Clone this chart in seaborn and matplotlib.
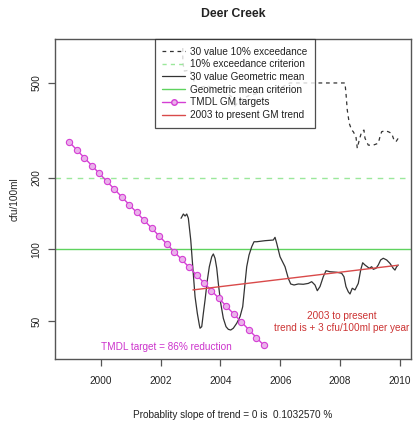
import matplotlib
matplotlib.use("Agg")
import matplotlib.pyplot as plt
import seaborn as sns
import pandas as pd
from matplotlib.lines import Line2D

# ---- data -------------------------------------------------------------
# 30-sample rolling geometric mean (cfu/100ml)
gm_years = [2002.683, 2002.760, 2002.817, 2002.873, 2002.927, 2003.007, 2003.074,
            2003.151, 2003.227, 2003.294, 2003.318, 2003.374, 2003.428, 2003.485,
            2003.562, 2003.628, 2003.709, 2003.762, 2003.819, 2003.876, 2003.929,
            2004.009, 2004.096, 2004.186, 2004.263, 2004.343, 2004.430, 2004.544,
            2004.654, 2004.744, 2004.821, 2004.878, 2004.955, 2005.045, 2005.122,
            2005.212, 2005.490, 2005.767, 2005.824, 2005.880, 2005.991, 2006.158,
            2006.268, 2006.348, 2006.459, 2006.602, 2006.769, 2006.936, 2007.050,
            2007.160, 2007.237, 2007.327, 2007.437, 2007.528, 2007.661, 2007.885,
            2008.052, 2008.129, 2008.196, 2008.273, 2008.330, 2008.406, 2008.497,
            2008.607, 2008.687, 2008.754, 2008.831, 2008.908, 2008.974, 2009.055,
            2009.108, 2009.198, 2009.275, 2009.355, 2009.442, 2009.556, 2009.666,
            2009.776, 2009.833, 2009.890, 2009.943]
gm_values = [135.0, 140.7, 138.0, 140.7, 135.0, 109.4, 84.5, 63.2, 53.8, 48.1,
             46.6, 47.3, 53.8, 61.2, 74.3, 84.5, 93.1, 95.6, 91.7, 83.2, 71.9,
             59.3, 51.3, 47.3, 46.1, 45.8, 46.6, 48.9, 52.1, 57.4, 71.9, 84.5,
             94.6, 102.5, 107.6, 107.6, 108.7, 109.4, 112.3, 106.0, 93.1, 84.5,
             75.5, 71.5, 70.8, 71.5, 71.3, 71.9, 73.1, 70.8, 67.0, 69.7, 76.7,
             81.3, 80.5, 80.1, 79.3, 76.7, 69.7, 66.3, 64.9, 68.6, 67.5, 71.9,
             81.8, 87.8, 85.9, 84.5, 83.2, 84.5, 82.4, 83.2, 85.9, 90.2, 91.7,
             90.2, 87.3, 83.2, 81.8, 84.5, 85.9]

# 30-sample rolling 10% exceedance value (cfu/100ml)
exc_years = [2002.740, 2002.741, 2002.793, 2002.984, 2003.084, 2003.217, 2003.552,
             2004.053, 2004.387, 2004.454, 2004.654, 2004.988, 2005.490, 2005.991,
             2006.325, 2008.162, 2008.196, 2008.239, 2008.306, 2008.386, 2008.440,
             2008.530, 2008.573, 2008.640, 2008.720, 2008.797, 2008.831, 2008.941,
             2009.108, 2009.275, 2009.332, 2009.389, 2009.499, 2009.609, 2009.723,
             2009.800, 2009.866, 2009.943]
exc_values = [701, 612, 561, 567, 520, 476, 486, 467, 436, 396, 424, 445, 458, 476,
              500, 500, 452, 385, 338, 317, 312, 297, 266, 288, 312, 317, 293, 274,
              274, 279, 297, 312, 315, 312, 307, 288, 283, 293]

# TMDL geometric-mean targets (quarterly, 86% reduction)
tmdl_years = [1998.95, 1999.20, 1999.45, 1999.70, 1999.95, 2000.20, 2000.45,
              2000.70, 2000.95, 2001.20, 2001.45, 2001.70, 2001.95, 2002.20,
              2002.45, 2002.70, 2002.95, 2003.20, 2003.45, 2003.70, 2003.95,
              2004.20, 2004.45, 2004.70, 2004.95, 2005.20, 2005.45]
tmdl_values = [282.0, 261.5, 242.4, 224.8, 208.4, 193.2, 179.2, 166.1, 154.0,
               142.8, 132.4, 122.7, 113.8, 105.5, 97.8, 90.7, 84.1, 78.0, 72.3,
               67.0, 62.2, 57.6, 53.4, 49.5, 45.9, 42.6, 39.5]

# 2003-to-present linear trend of the geometric mean
trend_years = [2003.08, 2009.93]
trend_values = [67.5, 85.7]

exceed_criterion = 200
gm_criterion = 100

y_ticks = [50, 100, 200, 500]
x_ticks = [2000, 2002, 2004, 2006, 2008, 2010]

# ---- styling ----------------------------------------------------------
sns.set_style("white")
plt.rcParams["font.family"] = ["Liberation Sans", "DejaVu Sans"]

TXT = "#222222"
FRAME = "#555555"
C_BLACK = "#333333"
C_GREEN = "#5fd35f"
C_LGREEN = "#9be89b"
C_MAG = "#d43fd4"
C_MAGFILL = "#eab2ea"
C_RED = "#d94a4a"

fig = plt.figure(figsize=(4.14, 4.25), dpi=100)
ax = fig.add_axes([0.1329, 0.1553, 0.8599, 0.7529])

ax.set_yscale("log")

ax.axhline(exceed_criterion, color=C_LGREEN, lw=1.0, ls=(0, (4, 4)), zorder=1)
ax.axhline(gm_criterion, color=C_GREEN, lw=1.0, zorder=1)

exc_df = pd.DataFrame({"year": exc_years, "value": exc_values})
sns.lineplot(data=exc_df, x="year", y="value", ax=ax, color=C_BLACK, lw=0.9,
             ls=(0, (3, 3)), sort=False, estimator=None, zorder=2)

gm_df = pd.DataFrame({"year": gm_years, "value": gm_values})
sns.lineplot(data=gm_df, x="year", y="value", ax=ax, color=C_BLACK, lw=0.9,
             sort=False, estimator=None, zorder=3)

tmdl_df = pd.DataFrame({"year": tmdl_years, "value": tmdl_values})
sns.lineplot(data=tmdl_df, x="year", y="value", ax=ax, color=C_MAG, lw=1.0,
             marker="o", markersize=4.5, markerfacecolor=C_MAGFILL,
             markeredgecolor=C_MAG, markeredgewidth=0.8,
             sort=False, estimator=None, zorder=4)

trend_df = pd.DataFrame({"year": trend_years, "value": trend_values})
sns.lineplot(data=trend_df, x="year", y="value", ax=ax, color=C_RED, lw=1.0,
             sort=False, estimator=None, zorder=4)

ax.set_xlim(1998.47, 2010.37)
ax.set_ylim(34.6, 765)

ax.set_yticks(y_ticks)
ax.set_yticklabels([str(v) for v in y_ticks], rotation=90, va="center")
ax.yaxis.set_minor_locator(matplotlib.ticker.NullLocator())
ax.set_xticks(x_ticks)
ax.set_xticklabels([str(v) for v in x_ticks])

ax.tick_params(axis="both", which="major", direction="out", length=5,
               width=0.9, color=FRAME, labelsize=7.2, labelcolor=TXT,
               left=True, bottom=True)
ax.tick_params(axis="x", pad=7)
ax.tick_params(axis="y", pad=5)
for s in ax.spines.values():
    s.set_color(FRAME)
    s.set_linewidth(1.0)

ax.set_xlabel("")
ax.set_ylabel("cfu/100ml", fontsize=7.2, color=TXT, labelpad=8)
ax.set_title("Deer Creek", fontsize=8.8, fontweight="bold", color=TXT, pad=16)

ax.text(2008.05, 49.6, "2003 to present\ntrend is + 3 cfu/100ml per year",
        ha="center", va="center", fontsize=7.2, color="#cc3333",
        linespacing=1.25)
ax.text(2002.2, 38.9, "TMDL target = 86% reduction", ha="center",
        va="center", fontsize=7.2, color="#cc33cc")

fig.text(0.563, 0.0235, "Probablity slope of trend = 0 is  0.1032570 %",
         ha="center", va="center", fontsize=7.2, color=TXT)

handles = [
    Line2D([], [], color=C_BLACK, lw=0.9, ls=(0, (3, 3))),
    Line2D([], [], color=C_LGREEN, lw=1.0, ls=(0, (3, 3))),
    Line2D([], [], color=C_BLACK, lw=0.9),
    Line2D([], [], color=C_GREEN, lw=1.0),
    Line2D([], [], color=C_MAG, lw=1.0, marker="o", markersize=4,
           markerfacecolor=C_MAGFILL, markeredgecolor=C_MAG),
    Line2D([], [], color=C_RED, lw=1.0),
]
labels = ["30 value 10% exceedance", "10% exceedance criterion",
          "30 value Geometric mean", "Geometric mean criterion",
          "TMDL GM targets", "2003 to present GM trend"]
leg = ax.legend(handles, labels, loc="upper center", bbox_to_anchor=(0.505, 1.0),
                borderaxespad=0, fontsize=7.2, frameon=True, fancybox=False,
                framealpha=0.8, edgecolor="#222222", handlelength=2.3,
                handletextpad=0.45, labelspacing=0.27, borderpad=0.75)
leg.get_frame().set_linewidth(0.9)
for t in leg.get_texts():
    t.set_color(TXT)

fig.savefig("out.png", dpi=100)
